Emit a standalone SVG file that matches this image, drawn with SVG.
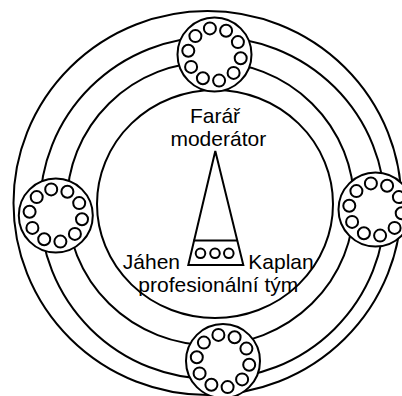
<svg xmlns="http://www.w3.org/2000/svg" xmlns:xlink="http://www.w3.org/1999/xlink" width="402" height="396" viewBox="0 0 402 396">
<style>
.ln{fill:none;stroke:#000;stroke-width:2}
.wf{fill:#fff;stroke:#000;stroke-width:2}
.tx{font-family:"Liberation Sans",Arial,sans-serif;font-size:21px;fill:#000}
</style>
<defs>
<g id="dial">
<circle class="wf" cx="0" cy="0" r="37"/>
<circle class="wf" cx="-4.6" cy="-26.1" r="6"/>
<circle class="wf" cx="11.6" cy="-23.8" r="6"/>
<circle class="wf" cx="23.4" cy="-12.4" r="6"/>
<circle class="wf" cx="26.2" cy="3.7" r="6"/>
<circle class="wf" cx="19.1" cy="18.4" r="6"/>
<circle class="wf" cx="4.6" cy="26.1" r="6"/>
<circle class="wf" cx="-11.6" cy="23.8" r="6"/>
<circle class="wf" cx="-23.4" cy="12.4" r="6"/>
<circle class="wf" cx="-26.2" cy="-3.7" r="6"/>
<circle class="wf" cx="-19.1" cy="-18.4" r="6"/>
</g>
</defs>
<rect width="402" height="396" fill="#fff"/>
<g id="rings">
<ellipse class="ln" cx="207.5" cy="203" rx="194" ry="192"/>
<ellipse class="ln" cx="212.5" cy="208" rx="172.5" ry="171"/>
<ellipse class="ln" cx="210.5" cy="203.5" rx="143.5" ry="141.5"/>
<ellipse class="ln" cx="215" cy="204" rx="118" ry="114"/>
</g>
<g id="group-top"><use xlink:href="#dial" x="214.5" y="54.5"/></g>
<g id="group-left"><use xlink:href="#dial" x="55.8" y="215.5"/></g>
<g id="group-right"><use xlink:href="#dial" x="375.5" y="209.5"/></g>
<g id="group-bottom"><use xlink:href="#dial" x="223" y="361"/></g>
<g id="hierarchy">
<polygon class="ln" points="215.3,151 188.3,265 243.3,265"/>
<line class="ln" x1="193.3" y1="240.5" x2="237.7" y2="240.5"/>
<circle class="ln" cx="200.5" cy="253.3" r="4.8"/>
<circle class="ln" cx="215" cy="253.3" r="4.8"/>
<circle class="ln" cx="228.8" cy="253.3" r="4.8"/>
</g>
<g id="labels">
<text class="tx" x="215" y="123" text-anchor="middle">Farář</text>
<text class="tx" x="218.3" y="146" text-anchor="middle">moderátor</text>
<text class="tx" x="180" y="269" text-anchor="end">Jáhen</text>
<text class="tx" x="248.3" y="269">Kaplan</text>
<text class="tx" x="218.3" y="292" text-anchor="middle">profesionální tým</text>
</g>
</svg>
